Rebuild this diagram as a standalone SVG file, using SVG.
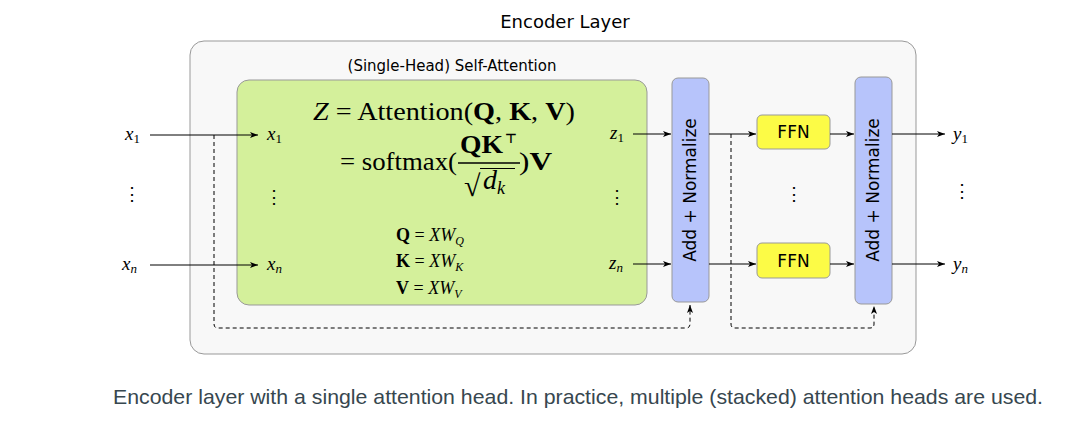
<svg xmlns="http://www.w3.org/2000/svg" width="1088" height="430" viewBox="0 0 1088 430">
<style>
.sans{font-family:"DejaVu Sans",Verdana,sans-serif;fill:#000}
.m{font-family:"Liberation Serif","DejaVu Serif",serif;fill:#000}
.it{font-style:italic}
.b{font-weight:bold}
.box{stroke:#999;stroke-width:1}
.ln{stroke:#000;stroke-width:1;fill:none}
.dash{stroke:#000;stroke-width:1;fill:none;stroke-dasharray:4,3}
</style>
<defs>
<marker id="ah" markerWidth="8" markerHeight="6" refX="8" refY="3" orient="auto" markerUnits="userSpaceOnUse">
<path d="M0,0 L8,3 L0,6 L2,3 Z" fill="#000"/>
</marker>
</defs>
<rect width="1088" height="430" fill="#fff"/>

<g id="encoder-layer">
<rect class="box" x="190" y="41" width="726" height="313" rx="14" fill="#f8f8f8"/>
<text class="sans" x="565" y="28" font-size="18" text-anchor="middle">Encoder Layer</text>
</g>

<g id="self-attention">
<text class="sans" x="452" y="71" font-size="15" text-anchor="middle">(Single-Head) Self-Attention</text>
<rect class="box" x="237" y="80" width="410" height="225" rx="12" fill="#d4f09b"/>
<text class="m" x="313" y="120" font-size="26" textLength="262" lengthAdjust="spacingAndGlyphs"><tspan class="it">Z</tspan> = Attention(<tspan class="b">Q</tspan>, <tspan class="b">K</tspan>, <tspan class="b">V</tspan>)</text>
<text class="m" x="340" y="170" font-size="26" textLength="117" lengthAdjust="spacingAndGlyphs">= softmax(</text>
<text class="m b" x="460" y="153" font-size="26" textLength="43" lengthAdjust="spacingAndGlyphs">QK</text>
<text x="505" y="143" font-family="DejaVu Sans,sans-serif" font-weight="bold" font-size="13">⊤</text>
<line x1="458" y1="163" x2="520" y2="163" stroke="#000" stroke-width="1.3"/>
<text class="m" x="464" y="196" font-size="30">√</text>
<line x1="480" y1="168.5" x2="515" y2="168.5" stroke="#000" stroke-width="1.2"/>
<text class="m it" x="483" y="189" font-size="28">d<tspan font-size="18" dy="5">k</tspan></text>
<text class="m" x="519" y="170" font-size="26" textLength="33" lengthAdjust="spacingAndGlyphs">)<tspan class="b">V</tspan></text>
<text class="m" x="396" y="241" font-size="18"><tspan class="b">Q</tspan> = <tspan class="it">XW</tspan><tspan class="it" font-size="12" dy="4">Q</tspan></text>
<text class="m" x="396" y="267" font-size="18"><tspan class="b">K</tspan> = <tspan class="it">XW</tspan><tspan class="it" font-size="12" dy="4">K</tspan></text>
<text class="m" x="396" y="294" font-size="18"><tspan class="b">V</tspan> = <tspan class="it">XW</tspan><tspan class="it" font-size="12" dy="4">V</tspan></text>
<text class="m it" x="267" y="140" font-size="19">x<tspan font-style="normal" font-size="13" dy="3">1</tspan></text>
<text class="m it" x="267" y="270" font-size="19">x<tspan font-size="13" dy="3">n</tspan></text>
<text class="m" x="274" y="203" font-size="18" text-anchor="middle">⋮</text>
<text class="m it" x="610" y="139" font-size="19">z<tspan font-style="normal" font-size="13" dy="3">1</tspan></text>
<text class="m it" x="609" y="269" font-size="19">z<tspan font-size="13" dy="3">n</tspan></text>
<text class="m" x="617" y="203" font-size="18" text-anchor="middle">⋮</text>
</g>

<g id="add-norm-1">
<rect class="box" x="672" y="78" width="37" height="224" rx="6" fill="#b7c4fb"/>
<text class="sans" transform="translate(696,190) rotate(-90)" font-size="17" text-anchor="middle">Add + Normalize</text>
</g>

<g id="ffn-1">
<rect class="box" x="757" y="115" width="73" height="34" rx="5" fill="#fcfb46"/>
<text class="sans" x="793.5" y="138" font-size="17" text-anchor="middle">FFN</text>
</g>
<g id="ffn-n">
<rect class="box" x="757" y="243" width="73" height="35" rx="5" fill="#fcfb46"/>
<text class="sans" x="793.5" y="267" font-size="17" text-anchor="middle">FFN</text>
</g>
<text class="m" x="794" y="200" font-size="18" text-anchor="middle">⋮</text>

<g id="add-norm-2">
<rect class="box" x="855" y="77" width="37" height="227" rx="6" fill="#b7c4fb"/>
<text class="sans" transform="translate(879,190) rotate(-90)" font-size="17" text-anchor="middle">Add + Normalize</text>
</g>

<g id="inputs">
<text class="m it" x="125" y="140" font-size="19">x<tspan font-style="normal" font-size="13" dy="3">1</tspan></text>
<text class="m it" x="122" y="270" font-size="19">x<tspan font-size="13" dy="3">n</tspan></text>
<text class="m" x="132" y="200" font-size="18" text-anchor="middle">⋮</text>
</g>
<g id="outputs">
<text class="m it" x="953" y="140" font-size="19">y<tspan font-style="normal" font-size="13" dy="3">1</tspan></text>
<text class="m it" x="953" y="270" font-size="19">y<tspan font-size="13" dy="3">n</tspan></text>
<text class="m" x="962" y="197" font-size="18" text-anchor="middle">⋮</text>
</g>

<g id="connectors">
<line class="ln" x1="150" y1="135" x2="258" y2="135" marker-end="url(#ah)"/>
<line class="ln" x1="150" y1="265" x2="258" y2="265" marker-end="url(#ah)"/>
<line class="ln" x1="633" y1="134" x2="671" y2="134" marker-end="url(#ah)"/>
<line class="ln" x1="633" y1="264" x2="671" y2="264" marker-end="url(#ah)"/>
<line class="ln" x1="709" y1="134" x2="756" y2="134" marker-end="url(#ah)"/>
<line class="ln" x1="709" y1="264" x2="756" y2="264" marker-end="url(#ah)"/>
<line class="ln" x1="830" y1="134" x2="854" y2="134" marker-end="url(#ah)"/>
<line class="ln" x1="830" y1="264" x2="854" y2="264" marker-end="url(#ah)"/>
<line class="ln" x1="892" y1="134" x2="945" y2="134" marker-end="url(#ah)"/>
<line class="ln" x1="892" y1="264" x2="945" y2="264" marker-end="url(#ah)"/>
<path class="dash" d="M214,135 V324 Q214,328 218,328 H686 Q690,328 690,324 V305" marker-end="url(#ah)"/>
<path class="dash" d="M731,134 V324 Q731,328 735,328 H870 Q874,328 874,324 V306" marker-end="url(#ah)"/>
</g>

<text x="113" y="404" font-family="Liberation Sans,Arial,sans-serif" font-size="21" fill="#37474f" textLength="930" lengthAdjust="spacingAndGlyphs">Encoder layer with a single attention head. In practice, multiple (stacked) attention heads are used.</text>
</svg>
